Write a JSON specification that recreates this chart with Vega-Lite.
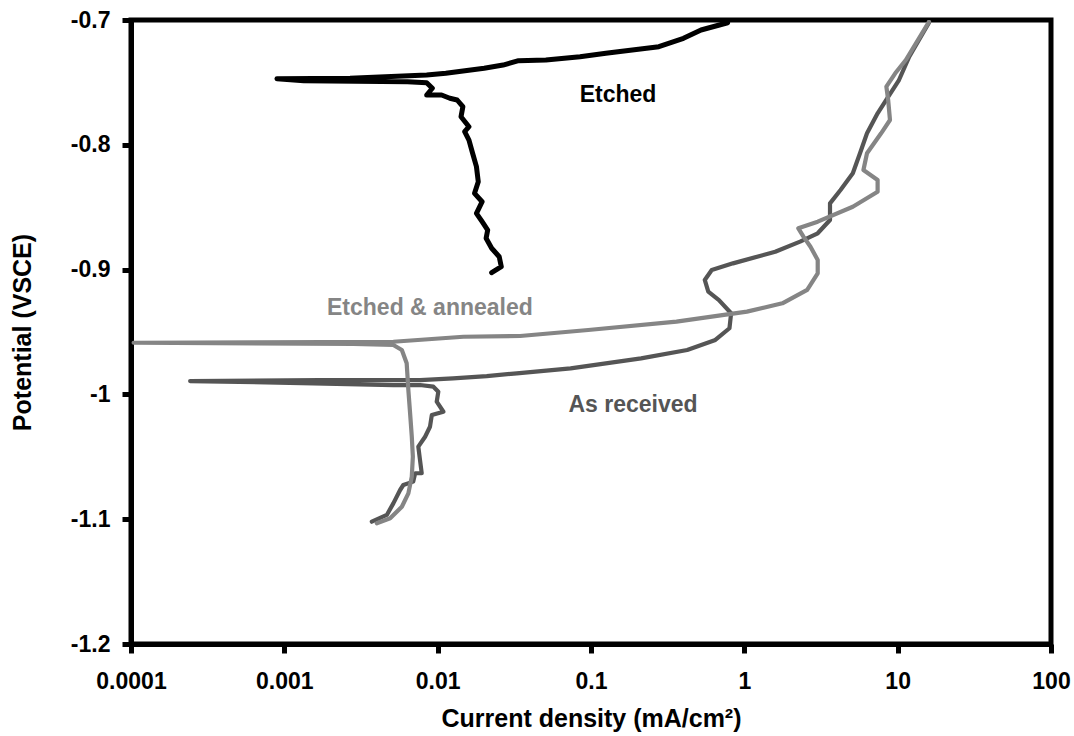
{
  "$schema": "https://vega.github.io/schema/vega-lite/v6.json",
  "width": 920,
  "height": 624,
  "autosize": {"type": "none"},
  "padding": {"left": 131, "top": 20, "right": 23, "bottom": 92},
  "background": "white",
  "config": {
    "view": {"stroke": "black", "strokeWidth": 5},
    "axis": {
      "grid": false,
      "domainColor": "black",
      "domainWidth": 5,
      "tickColor": "black",
      "tickWidth": 5,
      "tickSize": 9,
      "labelFont": "Liberation Sans",
      "labelFontWeight": "bold",
      "labelFontSize": 23,
      "labelColor": "black",
      "titleFont": "Liberation Sans",
      "titleFontWeight": "bold",
      "titleFontSize": 25,
      "titleColor": "black"
    }
  },
  "datasets": {
    "asrec": [
      {"x":0.00372,"y":-1.1020},{"x":0.00466,"y":-1.0966},{"x":0.00514,"y":-1.0873},{"x":0.00569,"y":-1.0766},{"x":0.00597,"y":-1.0726},{"x":0.00693,"y":-1.0699},{"x":0.00713,"y":-1.0632},{"x":0.00787,"y":-1.0632},{"x":0.00767,"y":-1.0526},{"x":0.00748,"y":-1.0419},{"x":0.00828,"y":-1.0339},{"x":0.00891,"y":-1.0259},{"x":0.00916,"y":-1.0165},{"x":0.0109,"y":-1.0139},{"x":0.00986,"y":-1.0058},{"x":0.0101,"y":-0.9978},{"x":0.00938,"y":-0.9938},{"x":0.00767,"y":-0.9925},{"x":0.00514,"y":-0.9925},{"x":0.00155,"y":-0.9911},{"x":0.000243,"y":-0.9893},{"x":0.00171,"y":-0.9885},{"x":0.00767,"y":-0.9885},{"x":0.0126,"y":-0.9871},{"x":0.0209,"y":-0.9853},{"x":0.0328,"y":-0.9831},{"x":0.0736,"y":-0.9791},{"x":0.212,"y":-0.9711},{"x":0.424,"y":-0.9644},{"x":0.647,"y":-0.9564},{"x":0.800,"y":-0.9470},{"x":0.820,"y":-0.9350},{"x":0.683,"y":-0.9244},{"x":0.582,"y":-0.9177},{"x":0.552,"y":-0.9083},{"x":0.613,"y":-0.9003},{"x":0.843,"y":-0.8950},{"x":1.59,"y":-0.8857},{"x":2.31,"y":-0.8776},{"x":3.01,"y":-0.8709},{"x":3.62,"y":-0.8603},{"x":3.62,"y":-0.8469},{"x":4.24,"y":-0.8362},{"x":5.10,"y":-0.8228},{"x":5.68,"y":-0.8068},{"x":6.31,"y":-0.7908},{"x":7.40,"y":-0.7748},{"x":8.67,"y":-0.7615},{"x":10.2,"y":-0.7481},{"x":11.9,"y":-0.7294},{"x":16.0,"y":-0.7022}
    ],
    "annealed": [
      {"x":0.00401,"y":-1.1033},{"x":0.00490,"y":-1.0993},{"x":0.00584,"y":-1.0900},{"x":0.00644,"y":-1.0793},{"x":0.00678,"y":-1.0659},{"x":0.00689,"y":-1.0499},{"x":0.00678,"y":-1.0339},{"x":0.00661,"y":-1.0151},{"x":0.00644,"y":-0.9965},{"x":0.00628,"y":-0.9751},{"x":0.00584,"y":-0.9644},{"x":0.00514,"y":-0.9604},{"x":0.00282,"y":-0.9596},{"x":0.000104,"y":-0.9586},{"x":0.000628,"y":-0.9583},{"x":0.00514,"y":-0.9578},{"x":0.0147,"y":-0.9538},{"x":0.0345,"y":-0.9532},{"x":0.0959,"y":-0.9484},{"x":0.361,"y":-0.9417},{"x":1.04,"y":-0.9337},{"x":1.77,"y":-0.9270},{"x":2.57,"y":-0.9163},{"x":3.01,"y":-0.9030},{"x":3.01,"y":-0.8923},{"x":2.70,"y":-0.8817},{"x":2.43,"y":-0.8736},{"x":2.25,"y":-0.8669},{"x":3.01,"y":-0.8616},{"x":5.10,"y":-0.8496},{"x":7.40,"y":-0.8376},{"x":7.40,"y":-0.8282},{"x":5.98,"y":-0.8202},{"x":6.31,"y":-0.8068},{"x":7.80,"y":-0.7908},{"x":8.91,"y":-0.7801},{"x":8.67,"y":-0.7641},{"x":8.44,"y":-0.7534},{"x":9.64,"y":-0.7427},{"x":11.3,"y":-0.7321},{"x":16.0,"y":-0.7014}
    ],
    "etched": [
      {"x":0.0225,"y":-0.9025},{"x":0.0260,"y":-0.8977},{"x":0.0252,"y":-0.8897},{"x":0.0225,"y":-0.8829},{"x":0.0207,"y":-0.8749},{"x":0.0212,"y":-0.8683},{"x":0.0195,"y":-0.8616},{"x":0.0179,"y":-0.8549},{"x":0.0195,"y":-0.8456},{"x":0.0174,"y":-0.8389},{"x":0.0184,"y":-0.8296},{"x":0.0179,"y":-0.8175},{"x":0.0169,"y":-0.8068},{"x":0.0160,"y":-0.7962},{"x":0.0150,"y":-0.7895},{"x":0.0160,"y":-0.7855},{"x":0.0142,"y":-0.7775},{"x":0.0146,"y":-0.7695},{"x":0.0134,"y":-0.7641},{"x":0.0120,"y":-0.7627},{"x":0.0106,"y":-0.7601},{"x":0.00848,"y":-0.7601},{"x":0.00923,"y":-0.7547},{"x":0.00848,"y":-0.7502},{"x":0.00635,"y":-0.7494},{"x":0.00134,"y":-0.7486},{"x":0.000895,"y":-0.7470},{"x":0.00268,"y":-0.7467},{"x":0.00848,"y":-0.7441},{"x":0.0113,"y":-0.7427},{"x":0.0201,"y":-0.7387},{"x":0.0267,"y":-0.7361},{"x":0.0337,"y":-0.7326},{"x":0.0508,"y":-0.7321},{"x":0.0848,"y":-0.7294},{"x":0.125,"y":-0.7267},{"x":0.150,"y":-0.7254},{"x":0.277,"y":-0.7214},{"x":0.401,"y":-0.7147},{"x":0.522,"y":-0.7080},{"x":0.778,"y":-0.7022}
    ],
    "labels": [
      {"label":"Etched","x":0.150,"y":-0.760,"c":"Etched"},
      {"label":"Etched & annealed","x":0.0089,"y":-0.931,"c":"Etched & annealed"},
      {"label":"As received","x":0.188,"y":-1.0085,"c":"As received"}
    ]
  },
  "encoding": {
    "x": {
      "field": "x", "type": "quantitative",
      "scale": {"type": "log", "domain": [0.0001, 100]},
      "axis": {"values": [0.0001, 0.001, 0.01, 0.1, 1, 10, 100], "format": "~g", "labelPadding": 17, "title": "Current density (mA/cm²)", "titlePadding": 13, "labelFlush": false}
    },
    "y": {
      "field": "y", "type": "quantitative",
      "scale": {"domain": [-1.2, -0.7], "nice": false, "zero": false},
      "axis": {"values": [-0.7, -0.8, -0.9, -1, -1.1, -1.2], "labelExpr": "'-' + format(-datum.value, '~g')", "labelPadding": 12, "title": "Potential (VSCE)", "titlePadding": 35, "labelFlush": false}
    }
  },
  "layer": [
    {
      "data": {"name": "asrec"},
      "mark": {"type": "line", "stroke": "#555555", "strokeWidth": 4.2, "strokeJoin": "round", "strokeCap": "round", "clip": true},
      "encoding": {"order": {"value": null}}
    },
    {
      "data": {"name": "annealed"},
      "mark": {"type": "line", "stroke": "#858585", "strokeWidth": 4.2, "strokeJoin": "round", "strokeCap": "round", "clip": true},
      "encoding": {"order": {"value": null}}
    },
    {
      "data": {"name": "etched"},
      "mark": {"type": "line", "stroke": "#000000", "strokeWidth": 5, "strokeJoin": "round", "strokeCap": "round", "clip": true},
      "encoding": {"order": {"value": null}}
    },
    {
      "data": {"name": "labels"},
      "mark": {"type": "text", "font": "Liberation Sans", "fontWeight": "bold", "fontSize": 23},
      "encoding": {
        "text": {"field": "label"},
        "color": {"field": "c", "type": "nominal", "scale": {"domain": ["Etched", "Etched & annealed", "As received"], "range": ["#000000", "#858585", "#555555"]}, "legend": null}
      }
    }
  ]
}
